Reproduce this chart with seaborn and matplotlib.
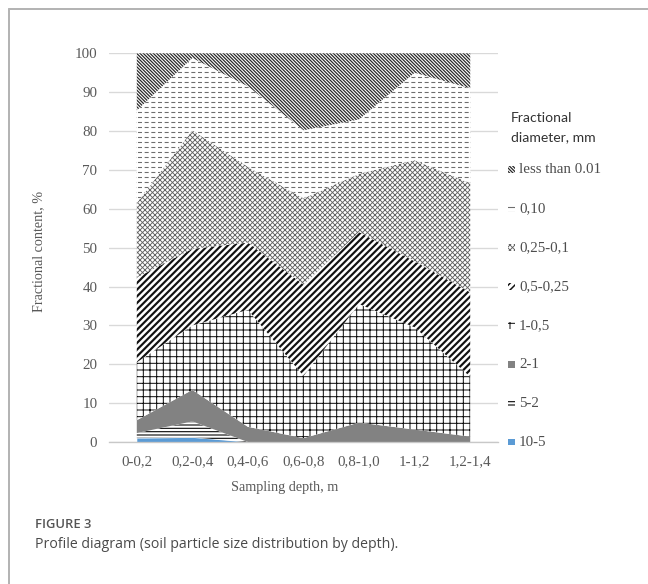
import numpy as np
import matplotlib
matplotlib.use("Agg")
import matplotlib.pyplot as plt
import seaborn as sns
from matplotlib.patches import Rectangle
from matplotlib.lines import Line2D

# ---------------- data ----------------
depths = ["0-0,2", "0,2-0,4", "0,4-0,6", "0,6-0,8", "0,8-1,0", "1-1,2", "1,2-1,4"]
fractions = ["10-5", "5-2", "2-1", "1-0,5", "0,5-0,25", "0,25-0,1", "0,10", "less than 0.01"]

f_10_5 = [1.0, 1.2, 0.0, 0.0, 0.0, 0.0, 0.0]
f_5_2 = [1.3, 4.1, 0.0, 0.0, 0.0, 0.0, 0.0]
f_2_1 = [3.3, 8.1, 3.9, 1.0, 5.0, 3.2, 1.4]
f_1_05 = [14.9, 16.6, 30.1, 16.0, 30.5, 26.3, 15.4]
f_05_025 = [21.8, 19.7, 17.3, 23.5, 18.5, 17.0, 21.7]
f_025_01 = [19.2, 30.5, 19.5, 22.2, 15.0, 26.0, 28.1]
f_010 = [23.8, 18.6, 20.7, 17.5, 14.0, 22.5, 24.4]
f_lt001 = [14.7, 1.2, 8.5, 19.8, 17.0, 5.0, 9.0]

series = [f_10_5, f_5_2, f_2_1, f_1_05, f_05_025, f_025_01, f_010, f_lt001]

# ---------------- styles ----------------
styles = {
    "10-5": dict(fc="#5b9bd5", ec="#5b9bd5", hatch=None, hlw=0.5),
    "5-2": dict(fc="white", ec="#111111", hatch="-" * 6, hlw=0.7),
    "2-1": dict(fc="white", ec="#2a2a2a", hatch="|" * 10, hlw=0.7),
    "1-0,5": dict(fc="white", ec="#111111", hatch="+++", hlw=0.6),
    "0,5-0,25": dict(fc="white", ec="#111111", hatch="/" * 6, hlw=1.3),
    "0,25-0,1": dict(fc="white", ec="#656565", hatch="x" * 8, hlw=0.55),
    "0,10": dict(fc="white", ec="#6e6e6e", hatch="-" * 4, hlw=0.65),
    "less than 0.01": dict(fc="white", ec="#2a2a2a", hatch="\\" * 12, hlw=0.75),
}

sns.set_theme(style="white")
plt.rcParams["font.family"] = ["Liberation Serif", "DejaVu Serif"]

W, H, DPI = 648, 584, 120
fig = plt.figure(figsize=(W / DPI, H / DPI), dpi=DPI)
ax = fig.add_axes([109 / W, 142 / H, 389 / W, 388.7 / H])

x = np.arange(len(depths))
cum = np.cumsum(np.array(series, dtype=float), axis=0)
lower = np.zeros(len(depths))


def add_fill(lo, hi, fc, ec, hatch, hlw):
    with plt.rc_context({"hatch.linewidth": hlw}):
        coll = ax.fill_between(x, lo, hi, facecolor=fc, edgecolor=ec,
                               hatch=hatch, linewidth=0, zorder=2)
    try:
        coll.set_hatch_linewidth(hlw)
    except AttributeError:
        pass
    return coll


for name, top in zip(fractions, cum):
    st = styles[name]
    add_fill(lower, top, st["fc"], st["ec"], st["hatch"], st["hlw"])
    if name == "0,10":
        # break the horizontal lines into dashes
        add_fill(lower, top, "none", "white", "|||", 1.6)
    lower = top

ax.set_xlim(-0.5, len(depths) - 0.5)
ax.set_ylim(0, 100)
ax.set_yticks(np.arange(0, 101, 10))
ax.set_xticks(x)
ax.set_xticklabels(depths)
ax.yaxis.grid(True, color="#d9d9d9", lw=0.8)
ax.xaxis.grid(False)
ax.set_axisbelow(True)
sns.despine(ax=ax, left=True, top=True, right=True)
ax.spines["bottom"].set_color("#c8c8c8")
ax.spines["bottom"].set_linewidth(0.8)
ax.tick_params(axis="both", length=0, labelsize=9, labelcolor="#595959")
ax.tick_params(axis="x", pad=8)
ax.tick_params(axis="y", pad=7)

ax.set_ylabel("Fractional content, %", fontsize=8.5, color="#595959")
ax.yaxis.set_label_coords((45 - 109) / 389, 0.49)
ax.set_xlabel("Sampling depth, m", fontsize=8.5, color="#595959")
ax.xaxis.label.set_va("center")
ax.xaxis.set_label_coords((285 - 109) / 389, (442 - 487) / 388.7)

# ---------------- legend (entries aligned on gridlines) ----------------
tr = ax.get_yaxis_transform()
legend_y = np.arange(70, -1, -10)
for yv, name in zip(legend_y, fractions[::-1]):
    st = styles[name]
    with plt.rc_context({"hatch.linewidth": min(st["hlw"], 0.9)}):
        r = Rectangle(((508 - 109) / 389, yv - 0.9), 7 / 389, 1.8,
                      transform=tr, facecolor=st["fc"], edgecolor=st["ec"],
                      hatch=st["hatch"], linewidth=0, clip_on=False)
    ax.add_patch(r)
    ax.text((519 - 109) / 389, yv, name, transform=tr, fontsize=9,
            color="#4d4d4d", va="center", ha="left", clip_on=False)

fig.text(511 / W, 1 - 118 / H, "Fractional", fontfamily="Lato", fontsize=8.4,
         color="#333333", va="center", ha="left")
fig.text(511 / W, 1 - 137 / H, "diameter, mm", fontfamily="Lato", fontsize=8.4,
         color="#333333", va="center", ha="left")

# ---------------- caption & frame ----------------
fig.text(35 / W, 1 - 525 / H, "FIGURE 3", fontfamily="Open Sans", fontweight="semibold",
         fontsize=7.8, color="#555555", va="center", ha="left")
fig.text(35 / W, 1 - 545 / H, "Profile diagram (soil particle size distribution by depth).",
         fontfamily="Open Sans", fontsize=8.5, color="#4a4a4a", va="center", ha="left")

fig.add_artist(Line2D([8.5 / W, 8.5 / W], [0, 1 - 8.5 / H], transform=fig.transFigure,
                      color="#b4b4b4", lw=1.2))
fig.add_artist(Line2D([8.5 / W, 1], [1 - 8.5 / H, 1 - 8.5 / H], transform=fig.transFigure,
                      color="#b4b4b4", lw=1.2))

fig.savefig("out.png", dpi=DPI, facecolor="white")
